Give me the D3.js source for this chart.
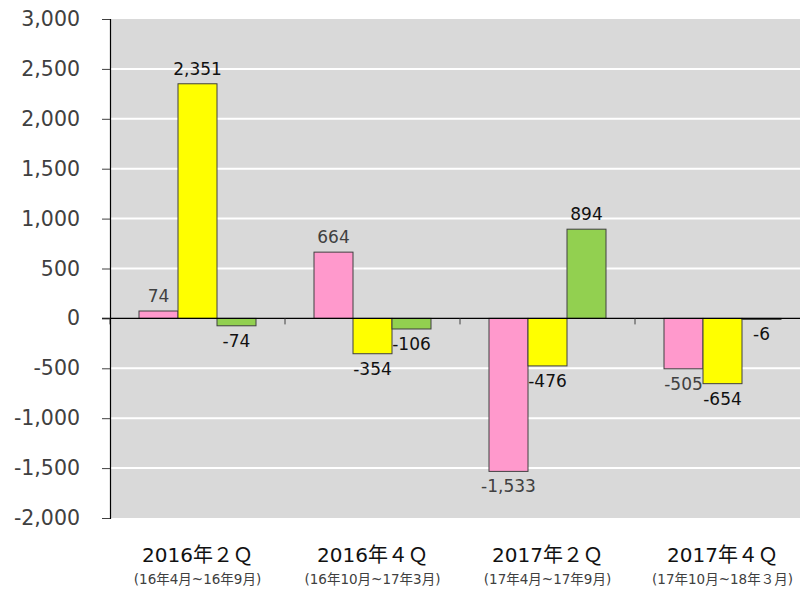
<!DOCTYPE html>
<html>
<head>
<meta charset="utf-8">
<script src="https://cdn.jsdelivr.net/npm/d3@7"></script>
<style>
    body { margin: 0; background: #fff; }
    text { font-family: "DejaVu Sans", "Noto Sans CJK JP", sans-serif; }
</style>
</head>
<body>
<div id="chart"></div>
<script>
// quarters on the x axis
var categories = ["2016年２Ｑ", "2016年４Ｑ", "2017年２Ｑ", "2017年４Ｑ"];
var subLabels = ["(16年4月~16年9月)", "(16年10月~17年3月)", "(17年4月~17年9月)", "(17年10月~18年３月)"];

// three series, one value per quarter
var seriesNames = ["a", "b", "c"];
var seriesA = [74, 664, -1533, -505];
var seriesB = [2351, -354, -476, -654];
var seriesC = [-74, -106, 894, -6];
var seriesColors = ["#ff99cc", "#ffff00", "#92d050"];
var labelColors = ["#404040", "#111111", "#111111"];

var yTicks = [-2000, -1500, -1000, -500, 0, 500, 1000, 1500, 2000, 2500, 3000];

var fullWidth = 800;
var fullHeight = 591;

var margin = {
    "top" : 19,
    "left" : 110,
    "right" : -10,
    "bottom" : 73
};

var svg = d3.select("#chart").append("svg").attr("width", fullWidth).attr("height", fullHeight);

var x0 = d3.scaleBand().domain(categories).range([margin.left, fullWidth - margin.right]);
var x1 = d3.scaleBand().domain(seriesNames).range([29, x0.bandwidth() - 29]);
var y = d3.scaleLinear().domain([-2000, 3000]).range([fullHeight - margin.bottom, margin.top]);

// plot background
svg.append("rect").attr("x", margin.left).attr("y", y(3000))
    .attr("width", fullWidth - margin.left).attr("height", y(-2000) - y(3000))
    .attr("fill", "#d9d9d9");

// white gridlines
svg.selectAll(".grid").data(yTicks.filter(function(d) { return d != 0 && d != 3000 && d != -2000; }))
    .enter().append("line")
    .attr("x1", margin.left).attr("x2", fullWidth)
    .attr("y1", function(d) { return y(d); })
    .attr("y2", function(d) { return y(d); })
    .attr("stroke", "#ffffff").attr("stroke-width", 2);

// bars
var rows = [];
for (var i = 0; i < categories.length; i++) {
    var vals = [seriesA[i], seriesB[i], seriesC[i]];
    for (var j = 0; j < seriesNames.length; j++) {
        rows.push({ "cat" : categories[i], "s" : j, "value" : vals[j] });
    }
}

svg.selectAll(".bar").data(rows).enter().append("rect")
    .attr("x", function(d) { return x0(d.cat) + x1(seriesNames[d.s]); })
    .attr("y", function(d) { return y(Math.max(0, d.value)); })
    .attr("width", x1.bandwidth())
    .attr("height", function(d) { return Math.max(1, Math.abs(y(d.value) - y(0))); })
    .attr("fill", function(d) { return seriesColors[d.s]; })
    .attr("stroke", "#404040").attr("stroke-width", 1);

// value labels
svg.selectAll(".vlabel").data(rows).enter().append("text")
    .attr("x", function(d) { return x0(d.cat) + x1(seriesNames[d.s]) + x1.bandwidth() / 2; })
    .attr("y", function(d) { return d.value >= 0 ? y(d.value) - 15 : y(d.value) + 15; })
    .attr("dy", "0.35em")
    .attr("text-anchor", "middle")
    .attr("font-size", "17px")
    .attr("fill", function(d) { return labelColors[d.s]; })
    .text(function(d) { return d3.format(",")(d.value).replace("−", "-"); });

// zero line
svg.append("line").attr("x1", margin.left - 8).attr("x2", fullWidth)
    .attr("y1", y(0)).attr("y2", y(0))
    .attr("stroke", "#000").attr("stroke-width", 1.2);

// category tick marks on the zero line
var bounds = categories.map(function(c) { return x0(c); });
svg.selectAll(".ctick").data(bounds).enter().append("line")
    .attr("x1", function(d) { return d; }).attr("x2", function(d) { return d; })
    .attr("y1", y(0)).attr("y2", y(0) + 6)
    .attr("stroke", "#404040").attr("stroke-width", 1);

// y axis
var yAxis = d3.axisLeft(y).tickValues(yTicks).tickSize(8).tickPadding(22)
    .tickFormat(function(d) { return d3.format(",")(d).replace("−", "-"); });
var ax = svg.append("g").attr("transform", "translate(" + margin.left + ",0)").call(yAxis);
ax.select(".domain").attr("stroke", "#000").attr("stroke-width", 1.2);
ax.selectAll(".tick line").attr("stroke", "#404040");
ax.selectAll(".tick text").attr("font-size", "20.5px").attr("fill", "#404040")
    .style("font-family", "\"DejaVu Sans\", sans-serif");

// category labels
svg.selectAll(".clabel").data(categories).enter().append("text")
    .attr("x", function(d) { return x0(d) + x0.bandwidth() / 2; })
    .attr("y", 562)
    .attr("text-anchor", "middle")
    .attr("font-size", "20px")
    .attr("fill", "#111")
    .text(function(d) { return d; });

svg.selectAll(".slabel").data(subLabels).enter().append("text")
    .attr("x", function(d, i) { return x0(categories[i]) + x0.bandwidth() / 2; })
    .attr("y", 584)
    .attr("text-anchor", "middle")
    .attr("font-size", "13.5px")
    .attr("fill", "#404040")
    .text(function(d) { return d; });
</script>
</body>
</html>
